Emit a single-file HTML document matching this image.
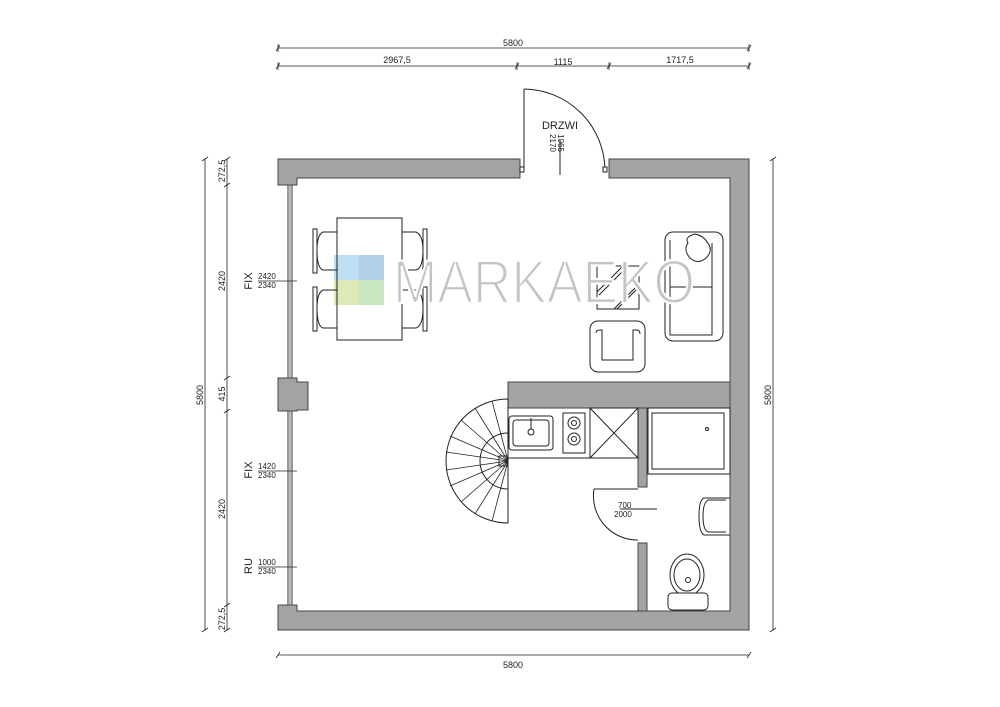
<!DOCTYPE html>
<html><head><meta charset="utf-8"><style>
html,body{margin:0;padding:0;background:#fff}
svg{display:block}
text{font-family:"Liberation Sans",sans-serif;fill:#222}
</style></head><body>
<svg width="1000" height="707" viewBox="0 0 1000 707" xmlns="http://www.w3.org/2000/svg">
<g fill="#a3a3a3" stroke="#444" stroke-width="1">
<polygon points="278,159 520,159 520,178 297,178 297,185 278,185"/>
<polygon points="609,159 749,159 749,630 278,630 278,605 297,605 297,611 730,611 730,178 609,178"/>
<polygon points="278,378 297,378 297,382 308,382 308,410 297,410 297,411 278,411"/>
<rect x="508" y="382" width="222" height="26"/>
<rect x="638" y="408" width="9" height="79"/>
<rect x="638" y="543" width="9" height="68"/>
</g>
<g stroke="#333" stroke-width="1" fill="none">
<line x1="288" y1="185" x2="288" y2="378"/><line x1="292" y1="185" x2="292" y2="378"/>
<line x1="288" y1="411" x2="288" y2="605"/><line x1="292" y1="411" x2="292" y2="605"/>
<line x1="290" y1="185" x2="290" y2="378" stroke="#777"/><line x1="290" y1="411" x2="290" y2="605" stroke="#777"/>
</g>
<g stroke="#222" stroke-width="0.8" fill="none">
<line x1="278" y1="48" x2="749" y2="48"/>
<line x1="278" y1="66" x2="749" y2="66"/>
<line x1="278" y1="655" x2="749" y2="655"/>
<line x1="205" y1="159" x2="205" y2="630"/>
<line x1="227" y1="159" x2="227" y2="630"/>
<line x1="773" y1="159" x2="773" y2="630"/>
<path d="M276,51 L280,45 M747,51 L751,45 M276,69 L280,63 M515,69 L519,63 M607,69 L611,63 M747,69 L751,63 M276,658 L280,652 M747,658 L751,652"/>
<path d="M202,161 L208,157 M202,632 L208,628 M224,161 L230,157 M224,187 L230,183 M224,380 L230,376 M224,413 L230,409 M224,607 L230,603 M224,632 L230,628 M770,161 L776,157 M770,632 L776,628"/>
<path d="M278,44 V52 M749,44 V52 M278,62 V70 M517,62 V70 M609,62 V70 M749,62 V70"/>
</g>
<g font-size="9">
<text x="513" y="46" text-anchor="middle">5800</text>
<text x="397" y="63" text-anchor="middle">2967,5</text>
<text x="563" y="65" text-anchor="middle">1115</text>
<text x="680" y="63" text-anchor="middle">1717,5</text>
<text x="513" y="668" text-anchor="middle">5800</text>
<text transform="translate(203,395) rotate(-90)" text-anchor="middle">5800</text>
<text transform="translate(771,395) rotate(-90)" text-anchor="middle">5800</text>
<text transform="translate(225,171) rotate(-90)" text-anchor="middle">272,5</text>
<text transform="translate(225,281) rotate(-90)" text-anchor="middle">2420</text>
<text transform="translate(225,394) rotate(-90)" text-anchor="middle">415</text>
<text transform="translate(225,509) rotate(-90)" text-anchor="middle">2420</text>
<text transform="translate(225,619) rotate(-90)" text-anchor="middle">272,5</text>
</g>
<g font-size="11"><text transform="translate(252,281) rotate(-90)" text-anchor="middle">FIX</text>
<text transform="translate(252,470) rotate(-90)" text-anchor="middle">FIX</text>
<text transform="translate(252,566) rotate(-90)" text-anchor="middle">RU</text></g>
<g font-size="8"><text x="258" y="279">2420</text><text x="258" y="288">2340</text>
<text x="258" y="469">1420</text><text x="258" y="478">2340</text>
<text x="258" y="565">1000</text><text x="258" y="574">2340</text></g>
<g stroke="#222" stroke-width="0.8"><line x1="258" y1="281" x2="297" y2="281"/><line x1="258" y1="471" x2="297" y2="471"/><line x1="258" y1="567" x2="297" y2="567"/></g>
<g stroke="#222" stroke-width="1" fill="none">
<line x1="524" y1="89" x2="524" y2="170"/>
<path d="M524,89 A82,82 0 0 1 605,170"/>
<rect x="520" y="167" width="4" height="5" fill="#fff"/><rect x="603" y="167" width="4" height="5" fill="#fff"/>
<line x1="560" y1="140" x2="560" y2="175"/>
</g>
<text x="560" y="129" font-size="11" text-anchor="middle">DRZWI</text>
<text transform="translate(558,143) rotate(90)" font-size="8" text-anchor="middle">1065</text>
<text transform="translate(550,143) rotate(90)" font-size="8" text-anchor="middle">2170</text>
<rect x="334" y="255" width="25" height="25" fill="#bfe0f2"/>
<rect x="359" y="255" width="25" height="25" fill="#b3d2ea"/>
<rect x="334" y="280" width="25" height="25" fill="#dcebb6"/>
<rect x="359" y="280" width="25" height="25" fill="#c8e6c0"/>
<g stroke="#222" stroke-width="1" fill="none">
<rect x="337" y="218" width="65" height="122"/>
<rect x="313" y="229" width="4" height="44"/><rect x="313" y="287" width="4" height="44"/>
<rect x="423" y="229" width="4" height="44"/><rect x="423" y="287" width="4" height="44"/>
<path d="M337,232 H323 Q317,235 317,250 Q317,268 323,270 H337"/>
<path d="M337,290 H323 Q317,293 317,308 Q317,326 323,328 H337"/>
<path d="M402,232 H416 Q423,235 423,250 Q423,268 416,270 H402"/>
<path d="M402,290 H416 Q423,293 423,308 Q423,326 416,328 H402"/>
<rect x="597" y="266" width="42" height="43"/>
<path d="M597,292 L623,266 M599,295 L626,268 M614,309 L639,284 M617,309 L639,287"/>
<rect x="590" y="321" width="55" height="51" rx="8"/>
<path d="M596,333 Q596,330 600,330 H602 V360 H633 V330 H636 Q640,330 640,334"/>
<rect x="665" y="232" width="58" height="109" rx="8"/>
<path d="M670,240 V335 H712 V243 M670,287 H712"/>
<path d="M688,243 Q684,237 695,234 Q704,236 707,242 Q714,250 706,258 Q698,265 690,258 Q683,250 688,243Z"/>
</g>
<text x="393" y="303" font-size="61" style="fill:#c4c4c4" textLength="302" lengthAdjust="spacingAndGlyphs" stroke="#fff" stroke-width="2.2" paint-order="normal">MARKAEKO</text>
<g stroke="#222" stroke-width="1" fill="none">
<line x1="508" y1="408" x2="508" y2="458"/>
<line x1="508" y1="458" x2="638" y2="458"/>
<rect x="509" y="416" width="44" height="34" rx="3"/><rect x="513" y="420" width="36" height="26" rx="3"/>
<circle cx="531" cy="432" r="3"/><line x1="531" y1="418" x2="531" y2="429"/>
<rect x="563" y="413" width="22" height="40"/>
<circle cx="574" cy="423" r="6"/><circle cx="574" cy="423" r="2.5"/>
<circle cx="574" cy="439" r="6"/><circle cx="574" cy="439" r="2.5"/>
<rect x="590" y="408" width="48" height="50"/>
<path d="M590,408 L638,458 M638,408 L590,458"/>
<rect x="648" y="408" width="82" height="66"/>
<rect x="652" y="413" width="72" height="56"/>
<circle cx="707" cy="429" r="1.5"/>
<path d="M730,498 H704 Q699,500 699,516 Q699,532 704,535 H730"/>
<path d="M726,500 H708 Q703,503 703,516 Q703,530 708,532 H726"/>
<ellipse cx="687" cy="575" rx="17" ry="21"/><ellipse cx="687" cy="575" rx="13" ry="16"/>
<circle cx="688" cy="580" r="2.5"/>
<rect x="668" y="593" width="40" height="17" rx="4" fill="#fff"/>
<line x1="594" y1="489" x2="638" y2="489"/>
<path d="M594,489 A44,44 0 0 0 638,540"/>
<line x1="620" y1="509" x2="657" y2="509"/>
<path d="M508,399 A62,62 0 0 0 508,523 Z"/>
<path d="M508,433 A28,28 0 0 0 508,489"/>
<rect x="499" y="456" width="9" height="10"/>
</g>
<g stroke="#222" stroke-width="0.8">
<line x1="508" y1="461" x2="492" y2="401"/>
<line x1="508" y1="461" x2="475" y2="408"/>
<line x1="508" y1="461" x2="461" y2="420"/>
<line x1="508" y1="461" x2="450" y2="436"/>
<line x1="508" y1="461" x2="446" y2="452"/>
<line x1="508" y1="461" x2="446" y2="470"/>
<line x1="508" y1="461" x2="450" y2="486"/>
<line x1="508" y1="461" x2="461" y2="502"/>
<line x1="508" y1="461" x2="475" y2="514"/>
<line x1="508" y1="461" x2="492" y2="521"/>
</g>
<g font-size="8"><text x="618" y="508">700</text><text x="614" y="517">2000</text></g>
</svg>
</body></html>
